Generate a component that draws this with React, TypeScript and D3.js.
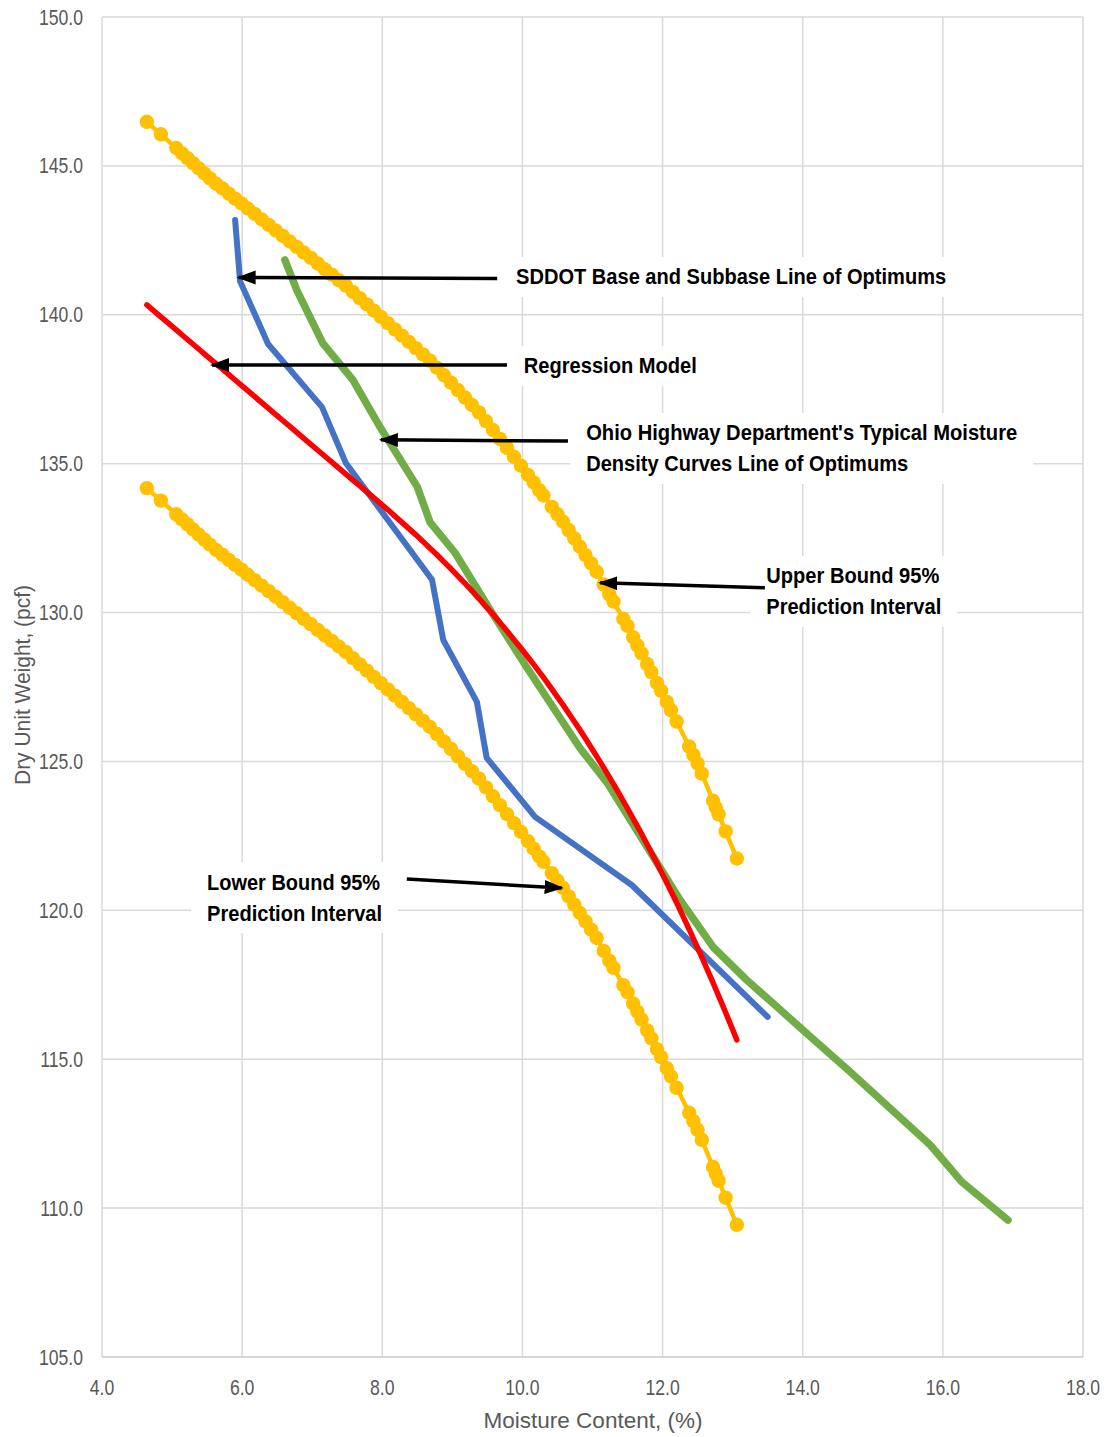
import { scaleLinear, line, range } from 'd3'

// moisture values shared by the regression line and the two prediction bounds
const moisture = [
  4.64, 4.84, 5.06, 5.14, 5.22, 5.30, 5.38, 5.46, 5.54, 5.63,
  5.72, 5.81, 5.90, 5.99, 6.08, 6.18, 6.28, 6.38, 6.48, 6.58,
  6.68, 6.78, 6.88, 6.98, 7.08, 7.18, 7.28, 7.38, 7.48, 7.58,
  7.68, 7.78, 7.88, 7.98, 8.08, 8.18, 8.28, 8.38, 8.48, 8.58,
  8.68, 8.78, 8.88, 8.98, 9.08, 9.18, 9.28, 9.38, 9.48, 9.58,
  9.68, 9.78, 9.88, 9.98, 10.08, 10.16, 10.24, 10.30, 10.42, 10.50,
  10.58, 10.66, 10.74, 10.82, 10.90, 10.98, 11.06, 11.16, 11.24, 11.30,
  11.44, 11.50, 11.58, 11.64, 11.70, 11.78, 11.84, 11.92, 11.98, 12.06,
  12.12, 12.20, 12.38, 12.44, 12.50, 12.56, 12.72, 12.76, 12.80, 12.90, 13.06,
]

const regression = [
  140.33, 139.93, 139.49, 139.33, 139.17, 139.01, 138.85, 138.69, 138.53, 138.35,
  138.17, 137.99, 137.81, 137.63, 137.45, 137.25, 137.05, 136.85, 136.65, 136.45,
  136.25, 136.05, 135.85, 135.65, 135.45, 135.25, 135.05, 134.85, 134.65, 134.45,
  134.25, 134.05, 133.85, 133.65, 133.45, 133.24, 133.03, 132.82, 132.61, 132.39,
  132.16, 131.94, 131.70, 131.47, 131.22, 130.98, 130.73, 130.47, 130.20, 129.94,
  129.66, 129.38, 129.09, 128.80, 128.50, 128.26, 128.01, 127.82, 127.43, 127.16,
  126.90, 126.62, 126.34, 126.06, 125.77, 125.47, 125.17, 124.79, 124.47, 124.24,
  123.67, 123.42, 123.08, 122.83, 122.57, 122.21, 121.94, 121.58, 121.30, 120.93,
  120.64, 120.26, 119.36, 119.05, 118.74, 118.43, 117.57, 117.35, 117.13, 116.57, 115.65,
]

const upperBound = [
  146.48, 146.06, 145.60, 145.43, 145.26, 145.09, 144.92, 144.75, 144.58, 144.40,
  144.24, 144.07, 143.90, 143.74, 143.57, 143.39, 143.20, 143.02, 142.83, 142.65,
  142.46, 142.28, 142.09, 141.91, 141.72, 141.53, 141.35, 141.16, 140.98, 140.77,
  140.56, 140.35, 140.14, 139.93, 139.72, 139.51, 139.30, 139.09, 138.88, 138.67,
  138.46, 138.22, 137.97, 137.72, 137.47, 137.22, 136.97, 136.72, 136.43, 136.13,
  135.83, 135.53, 135.23, 134.93, 134.62, 134.37, 134.11, 133.93, 133.55, 133.30,
  133.05, 132.77, 132.49, 132.21, 131.93, 131.65, 131.37, 130.94, 130.61, 130.37,
  129.79, 129.55, 129.17, 128.90, 128.63, 128.27, 128.00, 127.64, 127.37, 127.00,
  126.72, 126.34, 125.50, 125.22, 124.93, 124.59, 123.68, 123.45, 123.22, 122.65, 121.74,
]

const lowerBound = [
  134.18, 133.76, 133.30, 133.13, 132.96, 132.79, 132.62, 132.45, 132.28, 132.10,
  131.94, 131.77, 131.60, 131.44, 131.27, 131.09, 130.90, 130.72, 130.53, 130.35,
  130.16, 129.98, 129.79, 129.61, 129.42, 129.23, 129.05, 128.86, 128.68, 128.47,
  128.26, 128.05, 127.84, 127.63, 127.42, 127.21, 127.00, 126.79, 126.58, 126.37,
  126.16, 125.92, 125.67, 125.42, 125.17, 124.92, 124.67, 124.42, 124.13, 123.83,
  123.53, 123.23, 122.93, 122.63, 122.32, 122.07, 121.81, 121.63, 121.25, 121.00,
  120.75, 120.47, 120.19, 119.91, 119.63, 119.35, 119.07, 118.64, 118.31, 118.07,
  117.49, 117.25, 116.87, 116.60, 116.33, 115.97, 115.70, 115.34, 115.07, 114.70,
  114.42, 114.04, 113.20, 112.92, 112.63, 112.29, 111.38, 111.15, 110.92, 110.35, 109.44,
]

const sddotMoisture = [5.90, 5.97, 6.37, 7.14, 7.48, 8.71, 8.87, 9.35, 9.49, 10.18, 11.56, 13.50]
const sddotDensity = [143.18, 141.13, 139.02, 136.90, 135.02, 131.10, 129.08, 127.00, 125.12, 123.14, 120.85, 116.42]

const ohioMoisture = [
  6.61, 6.78, 7.15, 7.58, 7.95, 8.50, 8.68, 9.04, 9.54, 10.04, 10.82,
  11.21, 11.78, 12.25, 12.72, 13.20, 13.68, 14.03, 14.68, 15.82, 16.27, 16.93,
]
const ohioDensity = [
  141.84, 140.83, 139.05, 137.81, 136.30, 134.22, 133.04, 132.00, 130.09, 128.24, 125.45,
  124.28, 122.13, 120.35, 118.77, 117.66, 116.66, 115.92, 114.57, 112.12, 110.88, 109.60,
]

const xTicks = range(4, 18.01, 2)
const yTicks = range(105, 150.01, 5)

// callouts: text lines, text anchor point, arrow tail and tip (data units)
const callouts = [
  { lines: ['SDDOT Base and Subbase Line of Optimums'], widths: [430], at: [9.91, 141.27], tail: [9.64, 141.22], tip: [5.95, 141.25] },
  { lines: ['Regression Model'], widths: [173], at: [10.02, 138.28], tail: [9.78, 138.31], tip: [5.57, 138.31] },
  { lines: ["Ohio Highway Department's Typical Moisture", 'Density Curves Line of Optimums'], widths: [431, 322], at: [10.91, 136.03], tail: [10.65, 135.76], tip: [7.98, 135.8] },
  { lines: ['Upper Bound 95%', 'Prediction Interval'], widths: [173, 175], at: [13.48, 131.23], tail: [13.46, 130.83], tip: [11.11, 131.0] },
  { lines: ['Lower Bound 95%', 'Prediction Interval'], widths: [173, 175], at: [5.5, 120.95], tail: [8.35, 121.05], tip: [10.56, 120.75] },
]

function App() {
  const width = 1109
  const height = 1437
  const left = 102
  const right = 1083
  const top = 17
  const bottom = 1357

  const x = scaleLinear().domain([4, 18]).range([left, right])
  const y = scaleLinear().domain([105, 150]).range([bottom, top])

  const path = line<[number, number]>()
    .x(d => x(d[0]))
    .y(d => y(d[1]))

  const pairs = (xs: number[], ys: number[]) => xs.map((v, i) => [v, ys[i]] as [number, number])

  const regPts = pairs(moisture, regression)
  const upPts = pairs(moisture, upperBound)
  const loPts = pairs(moisture, lowerBound)
  const sddotPts = pairs(sddotMoisture, sddotDensity)
  const ohioPts = pairs(ohioMoisture, ohioDensity)

  const tickFont = 'Liberation Sans, Arial, sans-serif'
  const noteFont = 'Liberation Sans Narrow, Liberation Sans, Arial, sans-serif'
  const grid = '#d9d9d9'
  const gold = '#ffc000'
  const lineH = 31

  return (
    <div>
      <svg width={width} height={height} style={{ position: 'absolute', left: 0, top: 0, background: '#fff' }}>
        <defs>
          <marker id="head" markerUnits="userSpaceOnUse" markerWidth="20" markerHeight="16" refX="17" refY="8" orient="auto">
            <path d="M0,1 L19,8 L0,15 Z" fill="#000" />
          </marker>
        </defs>

        {/* grid */}
        {xTicks.map(t => (
          <line key={'gx' + t} x1={x(t)} x2={x(t)} y1={top} y2={bottom} stroke={grid} strokeWidth={1.5} />
        ))}
        {yTicks.map(t => (
          <line key={'gy' + t} x1={left} x2={right} y1={y(t)} y2={y(t)} stroke={t === 105 ? '#c8c8c8' : grid} strokeWidth={1.5} />
        ))}

        {/* tick labels */}
        {yTicks.map(t => (
          <g key={'ly' + t} transform={`translate(83,${y(t) + 7.5}) scale(0.8,1)`}>
            <text textAnchor="end" fontFamily={tickFont} fontSize={22} fill="#595959">{t.toFixed(1)}</text>
          </g>
        ))}
        {xTicks.map(t => (
          <g key={'lx' + t} transform={`translate(${x(t)},1395) scale(0.8,1)`}>
            <text textAnchor="middle" fontFamily={tickFont} fontSize={22} fill="#595959">{t.toFixed(1)}</text>
          </g>
        ))}

        {/* axis titles */}
        <text x={593} y={1428} textAnchor="middle" fontFamily={tickFont} fontSize={22} fill="#595959"
          textLength={219} lengthAdjust="spacingAndGlyphs">Moisture Content, (%)</text>
        <text transform="translate(30,685) rotate(-90)" textAnchor="middle" fontFamily={tickFont} fontSize={22} fill="#595959"
          textLength={200} lengthAdjust="spacingAndGlyphs">Dry Unit Weight, (pcf)</text>

        {/* series */}
        <path d={path(sddotPts) ?? ''} fill="none" stroke="#4472c4" strokeWidth={6} strokeLinejoin="round" strokeLinecap="round" />
        <path d={path(ohioPts) ?? ''} fill="none" stroke="#70ad47" strokeWidth={7.5} strokeLinejoin="round" strokeLinecap="round" />

        {[upPts, loPts].map((pts, k) => (
          <g key={'band' + k}>
            <path d={path(pts) ?? ''} fill="none" stroke={gold} strokeWidth={4.5} strokeLinejoin="round" />
            {pts.map((d, i) => (
              <circle key={i} cx={x(d[0])} cy={y(d[1])} r={7.2} fill={gold} />
            ))}
          </g>
        ))}

        <path d={path(regPts) ?? ''} fill="none" stroke="#ff0000" strokeWidth={5.5} strokeLinejoin="round" strokeLinecap="round" />

        {/* callouts */}
        {callouts.map((c, i) => {
          const tx = x(c.at[0])
          const ty = y(c.at[1])
          const maxW = Math.max(...c.widths)
          return (
            <g key={'c' + i}>
              <rect x={tx - 16} y={ty - 20} width={maxW + 32} height={(c.lines.length - 1) * lineH + 40} fill="#fff" />
              {c.lines.map((s, j) => (
                <text key={j} x={tx} y={ty + 7.5 + j * lineH} fontFamily={noteFont} fontWeight="bold" fontSize={22} fill="#000"
                  textLength={c.widths[j]} lengthAdjust="spacingAndGlyphs">{s}</text>
              ))}
              <line x1={x(c.tail[0])} y1={y(c.tail[1])} x2={x(c.tip[0])} y2={y(c.tip[1])}
                stroke="#000" strokeWidth={3.5} markerEnd="url(#head)" />
            </g>
          )
        })}
      </svg>
    </div>
  )
}

export default App
